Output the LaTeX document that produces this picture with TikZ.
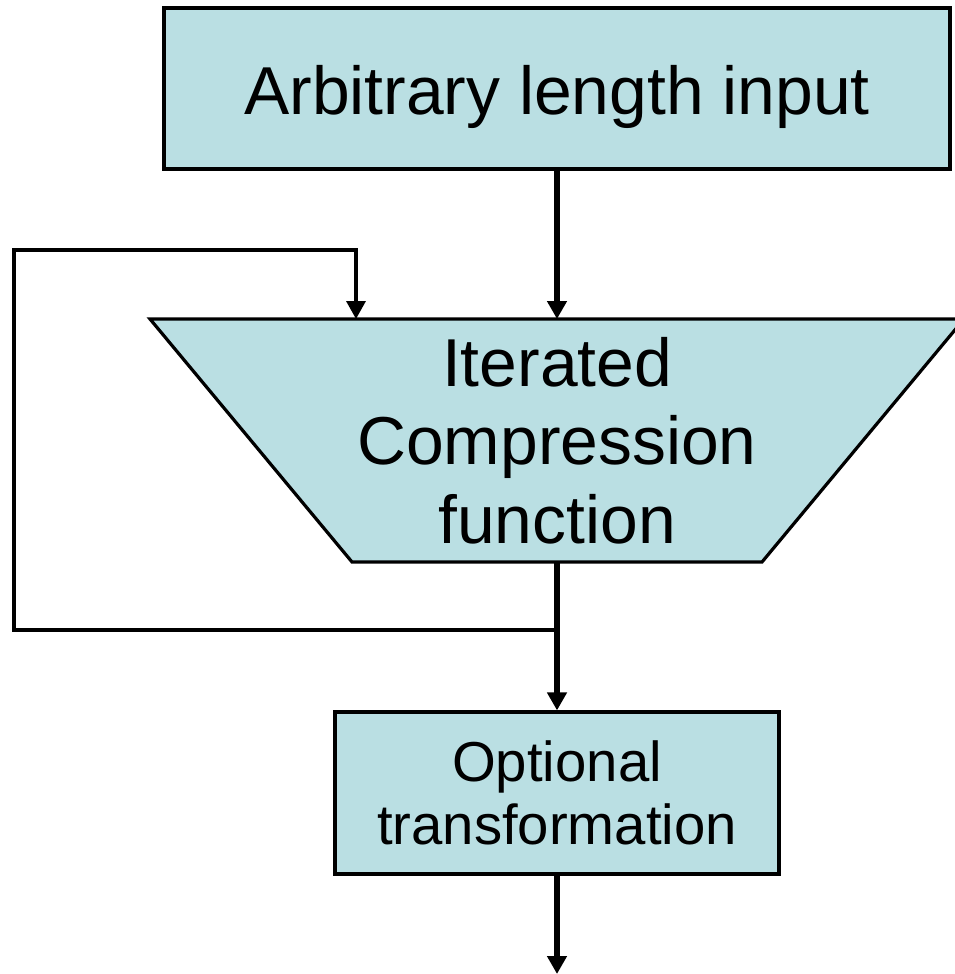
\documentclass[tikz,border=0pt]{standalone}
\usepackage{fontspec}
\setmainfont{Liberation Sans}
\usetikzlibrary{arrows.meta}
\definecolor{boxfill}{RGB}{186,223,227}
\tikzset{
  box/.style={draw=black, fill=boxfill, line width=3.2pt, inner sep=0pt, align=center},
  tip/.style={-{Triangle[width=19pt,length=18pt]}},
  flow/.style={line width=5.6pt, tip},
  loopline/.style={line width=3.4pt, tip, line join=miter},
}
\begin{document}
\begin{tikzpicture}[x=1pt,y=-1pt]
  \useasboundingbox (0,0) rectangle (954,974);

  % input block
  \node[box, minimum width=786pt, minimum height=161pt,
        text height=52pt, text depth=0pt,
        font=\fontsize{67.8}{78}\selectfont] (input) at (557,88.5) {Arbitrary length input};

  % compression stage (trapezium, wide side on top)
  \coordinate (ctl) at (150,319);
  \coordinate (ctr) at (964,319);
  \coordinate (cbr) at (762,562);
  \coordinate (cbl) at (352,562);
  \coordinate (ctop) at (557,319);
  \coordinate (cbot) at (557,562);
  \coordinate (fbin) at (356,319);
  \filldraw[fill=boxfill, draw=black, line width=3.2pt, line join=miter]
    (ctl) -- (ctr) -- (cbr) -- (cbl) -- cycle;
  \node[align=center, inner sep=0pt, font=\fontsize{67.8}{78.5}\selectfont] (comp) at (557,440.5)
    {Iterated\\Compression\\function};

  % output transformation
  \node[box, minimum width=444pt, minimum height=162pt,
        font=\fontsize{56.3}{63}\selectfont] (opt) at (557,793) {Optional\\transformation};

  % connectors
  \coordinate (tap) at (557,630);
  \coordinate (fbl) at (14,630);
  \coordinate (fbtl) at (14,250);
  \coordinate (fbtr) at (356,250);
  \coordinate (out) at (557,974);

  \draw[loopline] (tap) -- (fbl) -- (fbtl) -- (fbtr) -- (fbin);
  \draw[flow] (input.south) -- (ctop);
  \draw[flow] (cbot) -- (opt.north);
  \draw[flow] (opt.south) -- (out);
\end{tikzpicture}
\end{document}
